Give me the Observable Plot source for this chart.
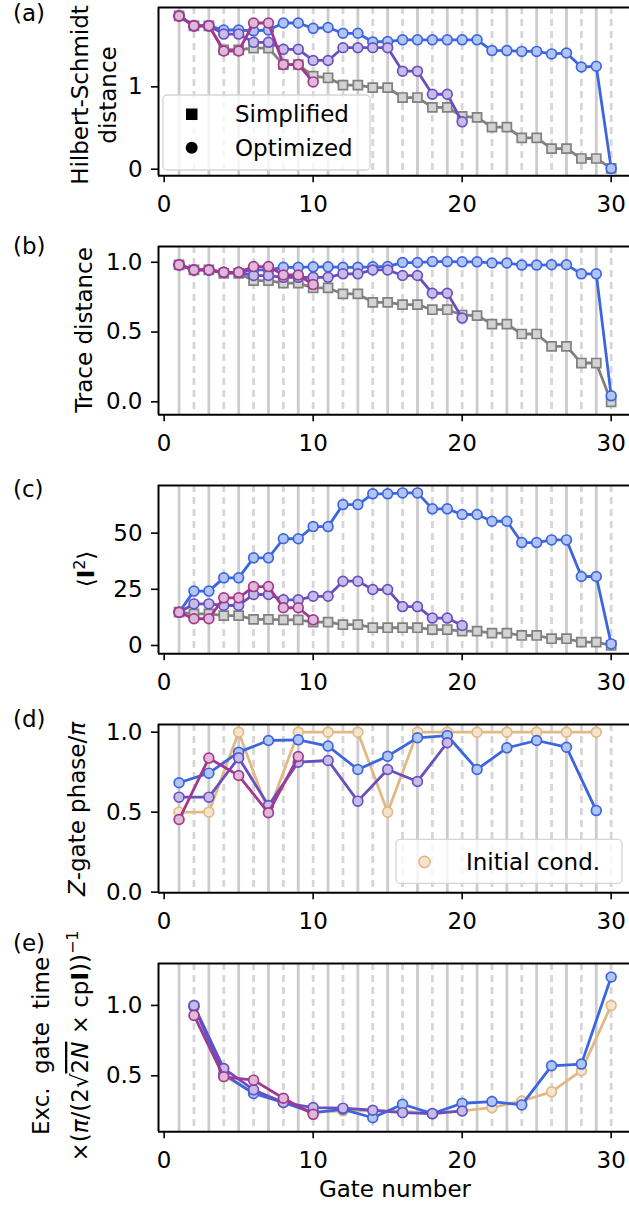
<!DOCTYPE html>
<html><head><meta charset="utf-8">
<script src="https://cdn.jsdelivr.net/npm/d3@7"></script>
<script src="https://cdn.jsdelivr.net/npm/@observablehq/plot@0.6"></script>
<style>
html,body{margin:0;padding:0;background:#fff;}
#fig{position:relative;width:629px;height:1205px;overflow:hidden;font-family:"DejaVu Sans";}
#fig svg{position:absolute;left:0;}
</style></head><body><div id="fig"></div>
<script>
// ---------- data ----------
const gates = [1,2,3,4,5,6,7,8,9,10,11,12,13,14,15,16,17,18,19,20,21,22,23,24,25,26,27,28,29,30];
const oddGates = [1,3,5,7,9,11,13,15,17,19,21,23,25,27,29];
const evenGates = [2,4,6,8,10,12,14,16,18,20,22,24,26,28,30];
const xTicks = [0,10,20,30];

// (a) Hilbert-Schmidt distance
const hsSimplified = [1.86,1.74,1.74,1.45,1.45,1.47,1.47,1.27,1.27,1.13,1.11,1.02,1.02,0.99,0.99,0.87,0.87,0.75,0.75,0.64,0.63,0.51,0.51,0.38,0.38,0.25,0.25,0.13,0.13,0.01];
const hsBlue = [1.86,1.74,1.74,1.69,1.69,1.68,1.69,1.775,1.775,1.71,1.72,1.65,1.65,1.545,1.55,1.57,1.57,1.57,1.57,1.57,1.57,1.44,1.44,1.43,1.43,1.40,1.41,1.24,1.25,0.01];
const hsPurple = [1.86,1.74,1.74,1.64,1.64,1.54,1.54,1.455,1.455,1.32,1.32,1.475,1.475,1.475,1.475,1.19,1.19,0.91,0.91,0.575];
const hsPink = [1.86,1.74,1.74,1.435,1.435,1.775,1.775,1.27,1.27,1.06];

// (b) Trace distance
const tdSimplified = [0.981,0.945,0.945,0.92,0.92,0.869,0.869,0.85,0.85,0.816,0.816,0.773,0.773,0.713,0.713,0.696,0.696,0.66,0.66,0.622,0.618,0.557,0.557,0.486,0.486,0.397,0.397,0.278,0.278,0.0];
const tdBlue = [0.981,0.945,0.945,0.928,0.928,0.945,0.945,0.964,0.964,0.967,0.967,0.964,0.964,0.967,0.97,0.998,0.998,1.005,1.005,1.003,1.003,0.995,0.995,0.98,0.98,0.982,0.982,0.917,0.917,0.043];
const tdPurple = [0.981,0.945,0.945,0.928,0.928,0.905,0.905,0.892,0.892,0.892,0.892,0.917,0.917,0.945,0.945,0.905,0.905,0.778,0.778,0.60];
const tdPink = [0.981,0.945,0.945,0.928,0.928,0.969,0.969,0.909,0.909,0.84];

// (c) <I^2>
const i2Simplified = [14.8,14.1,14.1,13.3,13.3,11.6,11.6,11.4,11.4,10.4,10.4,9.3,9.3,7.9,7.9,7.9,7.9,7.1,7.1,6.4,6.4,5.5,5.5,4.45,4.45,3.0,3.0,1.5,1.5,0.0];
const i2Blue = [14.8,24.2,24.2,30.1,30.1,39.0,39.0,47.5,47.5,52.9,52.9,62.7,62.7,67.5,67.5,67.9,67.9,60.8,60.8,58.3,58.3,55.3,55.3,45.8,45.8,47.0,47.0,30.7,30.7,0.7];
const i2Purple = [14.8,18.5,18.5,17.8,17.8,22.7,22.7,20.3,20.3,21.9,21.9,28.6,28.6,24.9,24.9,17.3,17.3,12.2,12.2,8.9];
const i2Pink = [14.8,11.9,11.9,21.2,21.2,26.2,26.2,16.8,16.8,11.4];

// (d) Z-gate phase / pi (odd gates)
const zInitial = [0.5,0.5,1.0,0.5,1.0,1.0,1.0,0.5,1.0,1.0,1.0,1.0,1.0,1.0,1.0];
const zBlue = [0.684,0.744,0.875,0.948,0.952,0.913,0.767,0.85,0.965,0.979,0.767,0.902,0.948,0.906,0.51];
const zPurple = [0.594,0.594,0.84,0.542,0.8125,0.823,0.569,0.767,0.692,0.934];
const zPink = [0.454,0.838,0.729,0.496,0.848];

// (e) excitation gate time (even gates)
const eInitial = [1.0,0.5,0.38,0.32,0.24,0.25,0.25,0.25,0.23,0.25,0.274,0.321,0.386,0.536,1.0];
const eBlue = [0.99,0.512,0.374,0.31,0.238,0.262,0.202,0.298,0.231,0.305,0.317,0.293,0.571,0.583,1.202];
const ePurple = [1.0,0.552,0.4,0.31,0.274,0.27,0.255,0.238,0.231,0.25];
const ePink = [0.929,0.493,0.469,0.34,0.226];

// ---------- styles ----------
const COL = {
  gray:   {line:"#808080", fill:"#d3d3d3"},
  blue:   {line:"#3c66e0", fill:"#b2c4f3"},
  purple: {line:"#6a4fc0", fill:"#c6bce8"},
  pink:   {line:"#a2388f", fill:"#dfbad8"},
  init:   {line:"#e2b984", fill:"#f4e3cd"}
};
const FS = 23;
const PITCH = 239, FRAME_TOP0 = 7, MT = 30, FH = 168.3;
const XDOM = [-0.38, 31.23];

function series(xs, ys, col, symbol) {
  const x = xs.slice(0, ys.length);
  return [
    Plot.line(ys, {x, y: d => d, stroke: col.line, strokeWidth: 2.8}),
    Plot.dot(ys, {x, y: d => d, symbol: symbol || "circle", r: symbol === "square" ? 5.1 : 4.9,
      fill: col.fill, stroke: col.line, strokeWidth: 1.7})
  ];
}

function panel(i, yDomain, yTicks, yFmt, seriesMarks, last) {
  const mb = last ? 80 : 60;
  const svg = Plot.plot({
    width: 629, height: MT + FH + mb,
    marginLeft: 158, marginRight: 0, marginTop: MT, marginBottom: mb,
    style: {fontFamily: "DejaVu Sans", fontSize: FS + "px", color: "black", background: "transparent", overflow: "visible"},
    x: {domain: XDOM},
    y: {domain: yDomain},
    marks: [
      Plot.ruleX(oddGates, {stroke: "#cccccc", strokeWidth: 2.8}),
      Plot.ruleX(evenGates, {stroke: "#d6d6d6", strokeWidth: 2.8, strokeDasharray: "7,5"}),
      ...seriesMarks,
      Plot.ruleX([XDOM[0]], {stroke: "black", strokeWidth: 2}),
      Plot.ruleY([yDomain[0], yDomain[1]], {stroke: "black", strokeWidth: 2}),
      Plot.axisX({ticks: xTicks, tickSize: 7, tickPadding: 13, strokeWidth: 1.6, label: null}),
      Plot.axisY({ticks: yTicks, tickFormat: yFmt, tickSize: 7, tickPadding: 9, strokeWidth: 1.6, label: null})
    ]
  });
  const top = FRAME_TOP0 + PITCH * i - MT;
  svg.style.top = top + "px";
  document.getElementById("fig").appendChild(svg);
  return {svg, top};
}

function txt(p, x, Y, s, opts = {}) {
  return d3.select(p.svg).append("text")
    .attr("x", x).attr("y", Y - p.top)
    .attr("font-size", opts.size || FS).attr("fill", "black")
    .attr("text-anchor", opts.anchor || "start")
    .text(s);
}
function rot(p, bx, cy) {
  return d3.select(p.svg).append("text")
    .attr("transform", `translate(${bx},${cy - p.top}) rotate(-90)`)
    .attr("text-anchor", "middle").attr("font-size", FS).attr("fill", "black");
}

// ---------- panels ----------
const pa = panel(0, [-0.08, 1.963], [0, 1], d3.format("d"), [
  ...series(gates, hsSimplified, COL.gray, "square"),
  ...series(gates, hsBlue, COL.blue),
  ...series(gates, hsPurple, COL.purple),
  ...series(gates, hsPink, COL.pink)
]);
const pb = panel(1, [-0.093, 1.113], [0, 0.5, 1], d3.format(".1f"), [
  ...series(gates, tdSimplified, COL.gray, "square"),
  ...series(gates, tdBlue, COL.blue),
  ...series(gates, tdPurple, COL.purple),
  ...series(gates, tdPink, COL.pink)
]);
const pc = panel(2, [-3.7, 71.2], [0, 25, 50], d3.format("d"), [
  ...series(gates, i2Simplified, COL.gray, "square"),
  ...series(gates, i2Blue, COL.blue),
  ...series(gates, i2Purple, COL.purple),
  ...series(gates, i2Pink, COL.pink)
]);
const pd = panel(3, [-0.004, 1.048], [0, 0.5, 1], d3.format(".1f"), [
  ...series(oddGates, zInitial, COL.init),
  ...series(oddGates, zBlue, COL.blue),
  ...series(oddGates, zPurple, COL.purple),
  ...series(oddGates, zPink, COL.pink)
]);
const pe = panel(4, [0.102, 1.298], [0.5, 1], d3.format(".1f"), [
  ...series(evenGates, eInitial, COL.init),
  ...series(evenGates, eBlue, COL.blue),
  ...series(evenGates, ePurple, COL.purple),
  ...series(evenGates, ePink, COL.pink)
], true);

// ---------- panel letters ----------
txt(pa, 13, 21, "(a)");
txt(pb, 13, 254, "(b)");
txt(pc, 13, 497, "(c)");
txt(pd, 13, 727, "(d)");
txt(pe, 13, 951, "(e)");

// ---------- y labels ----------
rot(pa, 88, 95).text("Hilbert-Schmidt");
rot(pa, 116, 95).text("distance");
rot(pb, 92, 330).text("Trace distance");
{
  const t = rot(pc, 94, 569);
  t.append("tspan").text("\u27E8");
  t.append("tspan").attr("font-weight", "bold").text("I");
  t.append("tspan").attr("font-size", 16).attr("dy", -9).text("2");
  t.append("tspan").attr("dy", 9).text("\u27E9");
}
{
  const t = rot(pd, 85, 809);
  t.append("tspan").attr("font-style", "italic").text("Z");
  t.append("tspan").text("-gate phase/");
  t.append("tspan").attr("font-style", "italic").text("\u03C0");
}
rot(pe, 49, 1046).attr("word-spacing", 6).text("Exc. gate time");
{
  const t = rot(pe, 88, 1046);
  t.append("tspan").text("\u00D7(");
  t.append("tspan").attr("font-style", "italic").text("\u03C0");
  t.append("tspan").text("/(2\u221A");
  t.append("tspan").attr("text-decoration", "overline").text("2");
  t.append("tspan").attr("text-decoration", "overline").attr("font-style", "italic").text("N");
  t.append("tspan").text(" \u00D7 cp");
  t.append("tspan").attr("font-weight", "bold").text("I");
  t.append("tspan").text("))");
  t.append("tspan").attr("font-size", 16).attr("dy", -10).text("\u22121");
}
// x label
txt(pe, 395, 1197, "Gate number", {anchor: "middle"});

// ---------- legends ----------
{
  const g = d3.select(pa.svg).append("g").attr("transform", `translate(0,${-pa.top})`).attr("text-anchor", "start");
  g.append("rect").attr("x", 163).attr("y", 95).attr("width", 207).attr("height", 75).attr("rx", 4)
    .attr("fill", "white").attr("fill-opacity", 0.8).attr("stroke", "#d5d5d5").attr("stroke-width", 1.3);
  g.append("rect").attr("x", 186).attr("y", 108.5).attr("width", 11.5).attr("height", 11.5).attr("fill", "black");
  g.append("circle").attr("cx", 191.7).attr("cy", 147.7).attr("r", 6).attr("fill", "black");
  g.append("text").attr("x", 235).attr("y", 122.3).attr("font-size", FS).attr("text-anchor", "start").text("Simplified");
  g.append("text").attr("x", 235).attr("y", 156).attr("font-size", FS).attr("text-anchor", "start").text("Optimized");
}
{
  const g = d3.select(pd.svg).append("g").attr("transform", `translate(0,${-pd.top})`).attr("text-anchor", "start");
  g.append("rect").attr("x", 396).attr("y", 839.3).attr("width", 226).attr("height", 44).attr("rx", 4)
    .attr("fill", "white").attr("fill-opacity", 0.8).attr("stroke", "#d5d5d5").attr("stroke-width", 1.3);
  g.append("circle").attr("cx", 424.5).attr("cy", 862).attr("r", 5.6)
    .attr("fill", COL.init.fill).attr("stroke", COL.init.line).attr("stroke-width", 1.6);
  g.append("text").attr("x", 466).attr("y", 870.3).attr("font-size", FS).attr("text-anchor", "start").text("Initial cond.");
}
</script></body></html>
